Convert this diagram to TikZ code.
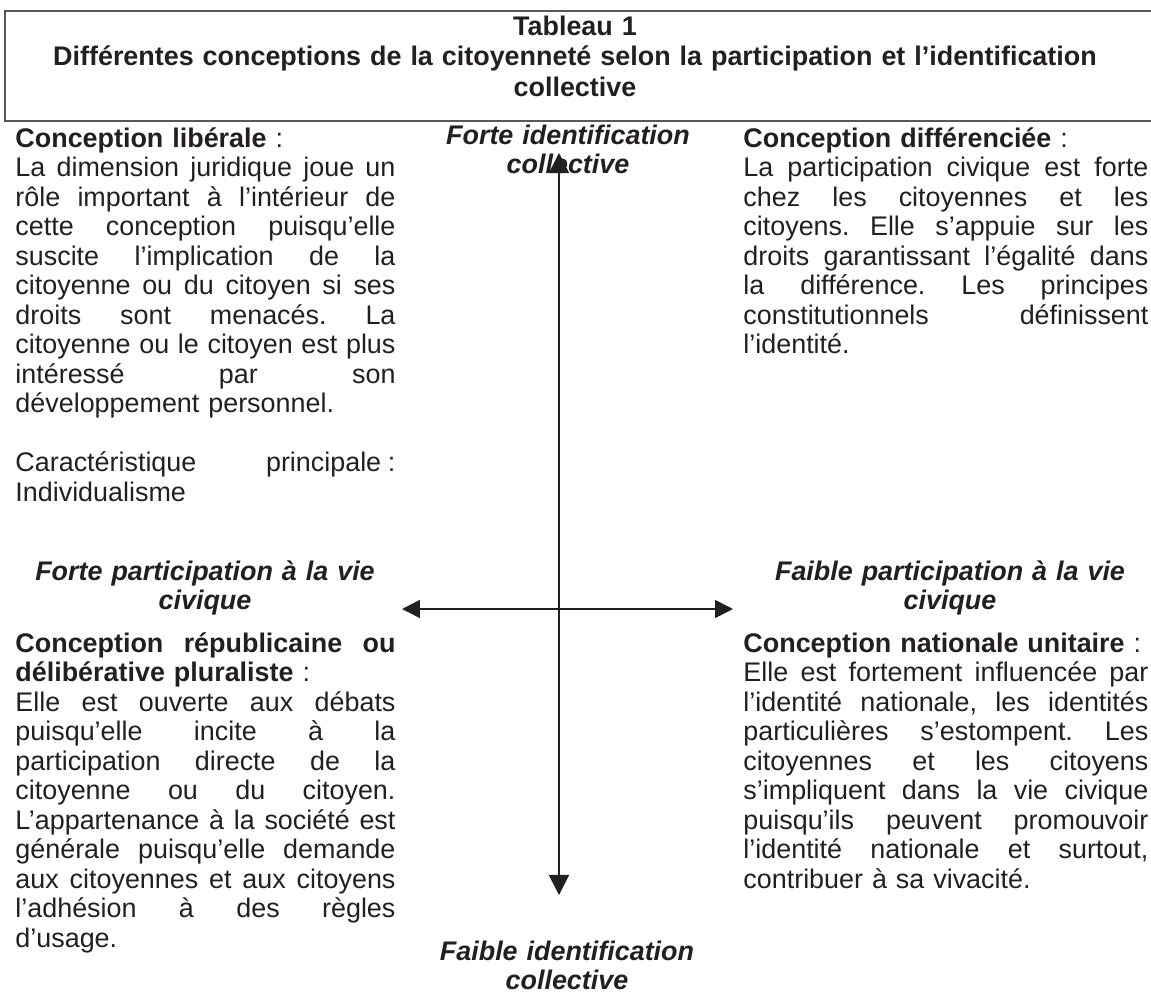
\documentclass[tikz,border=0pt]{standalone}
\usepackage{fontspec}
\setmainfont{Liberation Sans}
\usetikzlibrary{arrows.meta}
\definecolor{encre}{HTML}{231F20}
\frenchspacing
% une ligne justifiee a la Word, une ligne libre
\newcommand{\ligne}[1]{\hbox to\hsize{\spaceskip=0pt plus 1fil\relax#1}}
\newcommand{\libre}[1]{\hbox{#1}}

\begin{document}
\begin{tikzpicture}[x=0.446pt,y=-0.446pt]

\tikzset{quadrant/.style={anchor=base west,inner sep=0pt,text=encre,
           font=\fontsize{12}{13.16}\selectfont},
         axe/.style={anchor=base,inner sep=0pt,align=center,text width=200pt,text=encre,
           font=\fontsize{12}{13.16}\selectfont\bfseries\itshape},
         fleche/.style={draw=encre,line width=0.7pt}}

\useasboundingbox (0,0) rectangle (1151,997);

% cadre du titre
\draw[encre!75,line width=0.5pt] (1151,11) -- (5,11) -- (5,121) -- (1151,121);
\node[anchor=base,inner sep=0pt,align=center,text width=560pt,text=encre,
      font=\fontsize{12}{13.8}\selectfont\bfseries]
  (titre) at (575,35) {Tableau 1\\Différentes conceptions de la citoyenneté selon la participation et l’identification\\collective};

% les quatre conceptions
\node[quadrant,text width=169.5pt] (liberale) at (15,147) {%
\libre{\textbf{Conception libérale} :}
\ligne{La dimension juridique joue un}
\ligne{rôle important à l’intérieur de}
\ligne{cette conception puisqu’elle}
\ligne{suscite l’implication de la}
\ligne{citoyenne ou du citoyen si ses}
\ligne{droits sont menacés. La}
\ligne{citoyenne ou le citoyen est plus}
\ligne{intéressé par son}
\libre{développement personnel.}
\vskip\baselineskip
\ligne{Caractéristique \mbox{principale\hspace{0.25em}:}}
\libre{Individualisme}};

\node[quadrant,text width=180.6pt] (differenciee) at (743,147) {%
\libre{\textbf{Conception différenciée} :}
\ligne{La participation civique est forte}
\ligne{chez les citoyennes et les}
\ligne{citoyens. Elle s’appuie sur les}
\ligne{droits garantissant l’égalité dans}
\ligne{la différence. Les principes}
\ligne{constitutionnels définissent}
\libre{l’identité.}};

\node[quadrant,text width=169.5pt] (republicaine) at (15,652) {%
\ligne{\textbf{Conception républicaine ou}}
\libre{\textbf{délibérative pluraliste} :}
\ligne{Elle est ouverte aux débats}
\ligne{puisqu’elle incite à la}
\ligne{participation directe de la}
\ligne{citoyenne ou du citoyen.}
\ligne{L’appartenance à la société est}
\ligne{générale puisqu’elle demande}
\ligne{aux citoyennes et aux citoyens}
\ligne{l’adhésion à des règles}
\libre{d’usage.}};

\node[quadrant,text width=180.6pt] (nationale) at (743,652) {%
\libre{\textbf{Conception nationale unitaire} :}
\ligne{Elle est fortement influencée par}
\ligne{l’identité nationale, les identités}
\ligne{particulières s’estompent. Les}
\ligne{citoyennes et les citoyens}
\ligne{s’impliquent dans la vie civique}
\ligne{puisqu’ils peuvent promouvoir}
\ligne{l’identité nationale et surtout,}
\libre{contribuer à sa vivacité.}};

% les axes
\node[axe] (forteid) at (568,144) {Forte identification\\collective};
\node[axe] (faibleid) at (567,960) {Faible identification\\collective};
\node[axe] (fortepart) at (205,580) {Forte participation à la vie\\civique};
\node[axe] (faiblepart) at (950,580) {Faible participation à la vie\\civique};

\coordinate (haut) at (559,153);
\coordinate (bas) at (559,895);
\coordinate (gauche) at (402,609);
\coordinate (droite) at (733,609);

\draw[fleche,{Triangle[length=9pt,width=9pt]}-{Triangle[length=9pt,width=9pt]}] (bas) -- (haut);
\draw[fleche,{Triangle[length=8pt,width=8pt]}-{Triangle[length=8pt,width=8pt]}] (gauche) -- (droite);

\end{tikzpicture}
\end{document}
